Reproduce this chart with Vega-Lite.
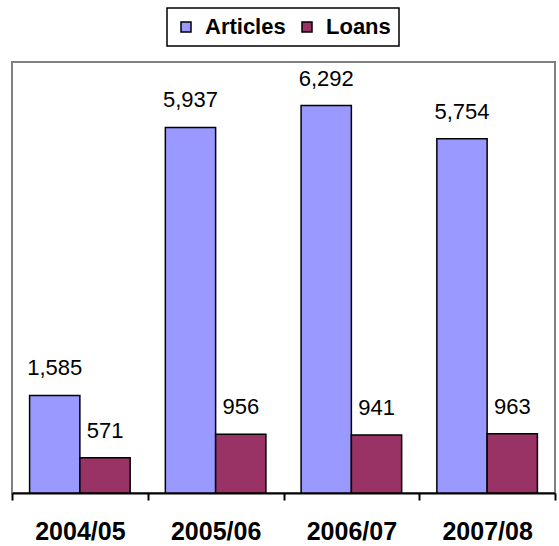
{
  "$schema": "https://vega.github.io/schema/vega-lite/v6.json",
  "width": 543,
  "height": 431,
  "autosize": {"type": "none"},
  "padding": {"left": 12, "top": 62, "right": 4, "bottom": 53},
  "background": "white",
  "config": {
    "view": {"stroke": "#808080", "strokeWidth": 2},
    "font": "Liberation Sans"
  },
  "data": {
    "values": [
      {"year": "2004/05", "series": "Articles", "value": 1585},
      {"year": "2004/05", "series": "Loans", "value": 571},
      {"year": "2005/06", "series": "Articles", "value": 5937},
      {"year": "2005/06", "series": "Loans", "value": 956},
      {"year": "2006/07", "series": "Articles", "value": 6292},
      {"year": "2006/07", "series": "Loans", "value": 941},
      {"year": "2007/08", "series": "Articles", "value": 5754},
      {"year": "2007/08", "series": "Loans", "value": 963}
    ]
  },
  "encoding": {
    "x": {
      "field": "year",
      "type": "nominal",
      "scale": {"paddingInner": 0, "paddingOuter": 0},
      "axis": {
        "title": null,
        "labelAngle": 0,
        "tickBand": "extent",
        "domainColor": "black",
        "domainWidth": 2,
        "tickColor": "black",
        "tickWidth": 2,
        "tickSize": 7,
        "labelFont": "Liberation Sans",
        "labelFontSize": 25,
        "labelFontWeight": "bold",
        "labelColor": "black",
        "labelPadding": 19
      }
    },
    "xOffset": {
      "field": "series",
      "type": "nominal",
      "scale": {"paddingInner": 0, "paddingOuter": 0.35}
    },
    "y": {
      "field": "value",
      "type": "quantitative",
      "scale": {"domain": [0, 7000], "nice": false},
      "axis": null
    }
  },
  "layer": [
    {
      "mark": {"type": "bar", "stroke": "black", "strokeWidth": 1.5},
      "encoding": {
        "color": {
          "field": "series",
          "type": "nominal",
          "scale": {"domain": ["Articles", "Loans"], "range": ["#9999FF", "#993366"]},
          "legend": {
            "title": null,
            "orient": "none",
            "legendX": 155,
            "legendY": -54,
            "direction": "horizontal",
            "columns": 2,
            "strokeColor": "black",
            "fillColor": "white",
            "padding": 8,
            "symbolType": "square",
            "symbolSize": 100,
            "symbolStrokeColor": "black",
            "symbolStrokeWidth": 1.5,
            "symbolOpacity": 1,
            "labelFont": "Liberation Sans",
            "labelFontSize": 22,
            "labelFontWeight": "bold",
            "labelColor": "black",
            "labelOffset": 8,
            "columnPadding": 10,
            "encode": {"legend": {"update": {"strokeWidth": {"value": 1.5}}}}
          }
        }
      }
    },
    {
      "mark": {"type": "text", "baseline": "alphabetic", "dy": -20, "fontSize": 22, "font": "Liberation Sans", "color": "black"},
      "encoding": {
        "text": {"field": "value", "type": "quantitative", "format": ","}
      }
    }
  ]
}
